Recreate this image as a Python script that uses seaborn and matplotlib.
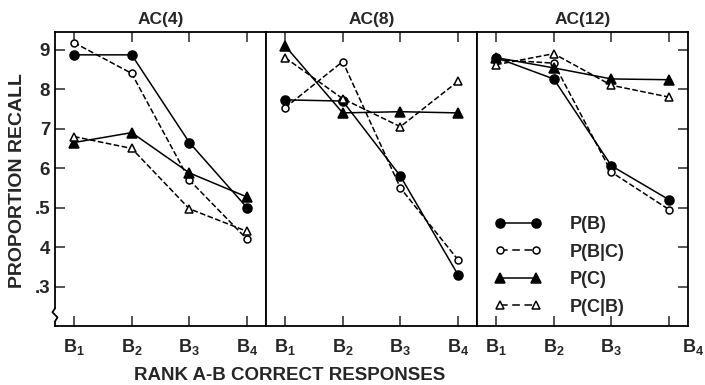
"""
Proportion recall vs rank of A-B correct responses, three AC panels.
"""
import numpy as np
import pandas as pd
import matplotlib
matplotlib.use('Agg')
import matplotlib.pyplot as plt
from matplotlib.transforms import ScaledTranslation
from matplotlib.lines import Line2D
import seaborn as sns

# ── Data ──────────────────────────────────────────────────────────────────────
ranks   = [r'B$_\mathregular{1}$', r'B$_\mathregular{2}$',
           r'B$_\mathregular{3}$', r'B$_\mathregular{4}$']
panels  = ['AC(4)', 'AC(8)', 'AC(12)']
y_ticks = [0.3, 0.4, 0.5, 0.6, 0.7, 0.8, 0.9]
y_tick_labels = ['.3', '4', '.5', '6', '7', '8', '9']

p_b       = [[0.887, 0.887, 0.665, 0.500],
             [0.773, 0.770, 0.580, 0.330],
             [0.880, 0.826, 0.606, 0.520]]
p_b_given_c = [[0.918, 0.840, 0.570, 0.420],
               [0.753, 0.870, 0.550, 0.368],
               [0.875, 0.866, 0.590, 0.495]]
p_c       = [[0.665, 0.690, 0.588, 0.527],
             [0.910, 0.740, 0.743, 0.740],
             [0.880, 0.854, 0.826, 0.824]]
p_c_given_b = [[0.680, 0.650, 0.497, 0.440],
               [0.880, 0.776, 0.705, 0.820],
               [0.862, 0.890, 0.810, 0.780]]

series_names = ['P(B)', 'P(B|C)', 'P(C)', 'P(C|B)']
series_vals  = [p_b, p_b_given_c, p_c, p_c_given_b]

STYLES = {
    'P(B)':   dict(marker='o', mfc='black', ls='-',  ms=6.5),
    'P(B|C)': dict(marker='o', mfc='white', ls='--', ms=5.0),
    'P(C)':   dict(marker='^', mfc='black', ls='-',  ms=7.0),
    'P(C|B)': dict(marker='^', mfc='white', ls='--', ms=5.5),
}
DASH = (5, 3)

rows = []
for name, vals in zip(series_names, series_vals):
    for p, panel in enumerate(panels):
        for i, v in enumerate(vals[p]):
            rows.append({'panel': panel, 'series': name, 'pos': i, 'value': v})
df = pd.DataFrame(rows)

# ── Plot ──────────────────────────────────────────────────────────────────────
sns.set_style('white')
plt.rcParams['font.family'] = ['Liberation Sans', 'DejaVu Sans']
plt.rcParams['font.weight'] = 'bold'
plt.rcParams['mathtext.fontset'] = 'custom'
plt.rcParams['mathtext.rm'] = 'Liberation Sans:bold'

fig, axes = plt.subplots(1, 3, figsize=(7.05, 3.85), dpi=100, sharey=True)
fig.subplots_adjust(left=0.078, right=0.976, top=0.917, bottom=0.153, wspace=0)

for ax, panel in zip(axes, panels):
    sub = df[df['panel'] == panel]
    for name in series_names:
        st = STYLES[name]
        sns.lineplot(
            data=sub[sub['series'] == name], x='pos', y='value', ax=ax,
            color='black', linewidth=1.1, linestyle=st['ls'],
            marker=st['marker'], markersize=st['ms'],
            markerfacecolor=st['mfc'], markeredgecolor='black',
            markeredgewidth=1.1, dashes=False if st['ls'] == '-' else DASH,
        )
    ax.set_xlim(-0.33, 3.33)
    ax.set_ylim(0.2, 0.945)
    ax.set_xticks(range(len(ranks)))
    ax.set_xticklabels(ranks, fontsize=13, fontweight='bold')
    ax.set_xlabel('')
    ax.set_ylabel('')
    ax.set_title(panel, fontsize=12.5, fontweight='bold', pad=6)
    ax.tick_params(axis='x', which='both', direction='in', length=7, width=1.1,
                   top=True, bottom=True, pad=8)
    ax.tick_params(axis='y', direction='in', length=7, width=1.1,
                   left=False, right=False, labelleft=False)
    for s in ax.spines.values():
        s.set_color('black')
        s.set_linewidth(1.3)

axes[0].set_yticks(y_ticks)
axes[0].set_yticklabels(y_tick_labels)
axes[0].tick_params(axis='y', left=True, labelleft=True, labelsize=13.5)
for t in axes[0].get_yticklabels():
    t.set_fontweight('bold')
axes[2].tick_params(axis='y', right=True)

# axis break mark on the left spine of the first panel
axes[0].spines['left'].set_bounds(0.245, 0.945)
axes[0].add_line(Line2D([0, -0.012, 0.012, 0.0, 0.0], [0.245, 0.235, 0.222, 0.212, 0.2],
                        transform=axes[0].get_yaxis_transform(), color='black',
                        lw=1.3, clip_on=False))

# last label of the third panel sits right of its tick in the original
lbl = axes[2].get_xticklabels()[-1]
lbl.set_transform(lbl.get_transform() + ScaledTranslation(0.24, 0, fig.dpi_scale_trans))

handles = [Line2D([], [], color='black', lw=1.1, ls=STYLES[n]['ls'],
                  marker=STYLES[n]['marker'], ms=STYLES[n]['ms'],
                  mfc=STYLES[n]['mfc'], mec='black', mew=1.1,
                  dashes=DASH if STYLES[n]['ls'] == '--' else (None, None))
           for n in series_names]
axes[2].legend(handles, series_names, loc='upper left',
               bbox_to_anchor=(478 / 705, 1 - 200 / 385), bbox_transform=fig.transFigure,
               frameon=False, numpoints=2, handlelength=2.6, handletextpad=1.6,
               labelspacing=0.58, prop={'size': 13, 'weight': 'bold'})

fig.text(18 / 705, 0.53, 'PROPORTION RECALL', rotation=90, ha='center', va='center',
         fontsize=14, fontweight='bold')
fig.text(290 / 705, 1 - 375 / 385, 'RANK A-B CORRECT RESPONSES', ha='center',
         va='center', fontsize=13.5, fontweight='bold')

fig.savefig('out.png', dpi=100)
